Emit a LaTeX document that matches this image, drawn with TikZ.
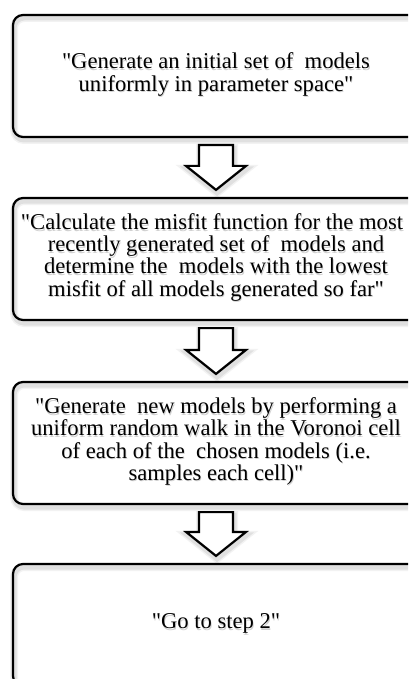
\documentclass[tikz,border=0pt]{standalone}
\usepackage{fontspec}
\setmainfont{Liberation Serif}[Ligatures=TeXOff]
\usetikzlibrary{calc}

% text of the boxes
\newcommand\boxfont{\fontsize{22.6}{21}\selectfont}
\newcommand\qq{\symbol{34}}
\newcommand\linestack[1]{\begin{tabular}{@{}c@{}}#1\end{tabular}}
% text with a faint grey drop shadow
\newcommand\shadedtext[1]{\leavevmode
  \rlap{\kern0.8pt\raisebox{-1.8pt}{\color{black!18}\linestack{#1}}}%
  \linestack{#1}}

\tikzset{
  x=1pt, y=-1pt,
  softshadow/.style={
    preaction={draw=black, opacity=0.05, line width=8pt,
      transform canvas={shift={(1pt,-3pt)}}},
    preaction={draw=black, opacity=0.07, line width=5pt,
      transform canvas={shift={(1pt,-3pt)}}}},
  stepbox/.style={draw=black, line width=2.2pt, rounded corners=10pt,
    minimum width=406pt, minimum height=122pt, inner sep=0pt,
    font=\boxfont, softshadow},
  flowarrow/.style={draw=black, line width=2.2pt, line join=miter,
    fill=white, softshadow}
}

% hollow block arrow from the bottom of one step to the top of the next
\newcommand\blockarrow[2]{%
  \path[flowarrow] let \p1=($(#1.south)+(0,7)$), \p2=($(#2.north)+(0,-7)$) in
    (\x1-17pt,\y1) -- (\x1+17pt,\y1) -- (\x1+17pt,\y2+24pt)
    -- (\x1+30pt,\y2+24pt) -- (\x1,\y2) -- (\x1-30pt,\y2+24pt)
    -- (\x1-17pt,\y2+24pt) -- cycle;}

\begin{document}
\begin{tikzpicture}
\useasboundingbox (0,0) rectangle (408,679);
\clip (0,0) rectangle (408,679);
\fill[white] (0,0) rectangle (408,679);

\node[stepbox] (s1) at (216,76)
  {\shadedtext{\qq Generate an initial set of\ \ models\\uniformly in parameter space\qq}};
\node[stepbox] (s2) at (216,259)
  {\shadedtext{\qq Calculate the misfit function for the most\kern8pt\\recently generated set of\ \ models and\\determine the\ \ models with the lowest\\misfit of all models generated so far\qq}};
\node[stepbox] (s3) at (216,443)
  {\shadedtext{\qq Generate\ \ new models by performing a\\uniform random walk in the Voronoi cell\\of each of the\ \ chosen models (i.e.\\samples each cell)\qq}};
\node[stepbox] (s4) at (216,625)
  {\shadedtext{\qq Go to step 2\qq}};

\blockarrow{s1}{s2}
\blockarrow{s2}{s3}
\blockarrow{s3}{s4}
\end{tikzpicture}
\end{document}
